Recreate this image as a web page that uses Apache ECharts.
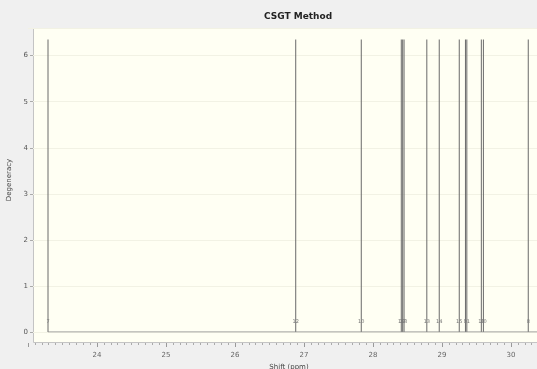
<!DOCTYPE html>
<html>
<head>
<meta charset="utf-8">
<script src="https://cdn.jsdelivr.net/npm/echarts@6/dist/echarts.min.js"></script>
<style>
  html, body { margin: 0; padding: 0; background: #f0f0f0; }
  #main { width: 537px; height: 369px; }
</style>
</head>
<body>
<div id="main"></div>
<script>
// shielding values (ppm) of each stick
var shifts = [23.29, 26.88, 27.83, 28.41, 28.43, 28.45, 28.78, 28.96, 29.25, 29.34, 29.36, 29.57, 29.6, 30.25];
var heights = [6.35, 6.35, 6.35, 6.35, 6.35, 6.35, 6.35, 6.35, 6.35, 6.35, 6.35, 6.35, 6.35, 6.35];
var atomLabels = ["7", "12", "10", "16", "17", "18", "13", "14", "15", "9", "11", "19", "20", "8"];
var xTicks = [23, 24, 25, 26, 27, 28, 29, 30, 31];
var yTicks = [0, 1, 2, 3, 4, 5, 6];

var labelLevel = 0.22;

var chartDom = document.getElementById("main");
var myChart = echarts.init(chartDom);

var sticks = shifts.map(function (x, i) { return [x, heights[i]]; });
var labelPts = shifts.map(function (x, i) { return [x, labelLevel, atomLabels[i]]; });
var baseline = [[shifts[0], 0], [xTicks[xTicks.length - 1], 0]];

var option = {
  backgroundColor: "#f0f0f0",
  animation: false,
  title: {
    text: "CSGT Method",
    left: 259,
    top: 7,
    textStyle: { fontSize: 9, fontWeight: "bold", color: "#222", fontFamily: "DejaVu Sans" },
  },
  graphic: [
    {
      type: "rect",
      z: -10,
      shape: { x: 33.5, y: 28.5, width: 520, height: 314 },
      style: { fill: "#fffff3", stroke: "#c4c4c4", lineWidth: 1 },
    },
  ],
  grid: [
    { left: 28, width: 552, top: 28, bottom: 26, outerBoundsMode: "none", containLabel: false },
    { left: 28, width: 552, top: 28, bottom: 37, outerBoundsMode: "none", containLabel: false },
  ],
  xAxis: [
    {
      gridIndex: 0,
      type: "value",
      min: xTicks[0],
      max: xTicks[xTicks.length - 1],
      interval: 1,
      name: "Shift (ppm)",
      nameLocation: "middle",
      nameGap: 18,
      nameTextStyle: { fontSize: 7, color: "#444", fontFamily: "DejaVu Sans", padding: [0, 30, 0, 0] },
      axisLine: { show: false },
      axisTick: { show: true, length: 4, lineStyle: { color: "#999" } },
      minorTick: { show: true, splitNumber: 10, length: 2, lineStyle: { color: "#aaa" } },
      axisLabel: { fontSize: 7, color: "#666", margin: 9, fontFamily: "DejaVu Sans", showMinLabel: false },
      splitLine: { show: false },
    },
    {
      gridIndex: 1,
      type: "value",
      min: xTicks[0],
      max: xTicks[xTicks.length - 1],
      interval: 1,
      show: false,
    },
  ],
  yAxis: [
    {
      gridIndex: 0,
      type: "value",
      show: false,
    },
    {
      gridIndex: 1,
      type: "value",
      min: yTicks[0],
      max: 6.6,
      interval: 1,
      offset: -5,
      name: "Degeneracy",
      nameLocation: "middle",
      nameGap: 16,
      nameRotate: 90,
      nameTextStyle: { fontSize: 7, color: "#444", fontFamily: "DejaVu Sans" },
      axisLine: { show: false },
      axisTick: { show: true, length: 3, lineStyle: { color: "#aaa" } },
      axisLabel: {
        fontSize: 7,
        color: "#555",
        margin: 5,
        fontFamily: "DejaVu Sans",
        showMaxLabel: false,
      },
      splitLine: { show: true, lineStyle: { color: "#f2f2e4", width: 1 } },
    },
  ],
  series: [
    {
      type: "line",
      xAxisIndex: 1,
      yAxisIndex: 1,
      data: baseline,
      symbol: "none",
      lineStyle: { color: "#8a8a8a", width: 1 },
      silent: true,
    },
    {
      type: "custom",
      xAxisIndex: 1,
      yAxisIndex: 1,
      data: sticks,
      renderItem: function (params, api) {
        var p0 = api.coord([api.value(0), 0]);
        var p1 = api.coord([api.value(0), api.value(1)]);
        return {
          type: "line",
          shape: { x1: p0[0], y1: p0[1], x2: p1[0], y2: p1[1] },
          style: { stroke: "#6a6a6a", lineWidth: 1 },
        };
      },
      z: 3,
    },
    {
      type: "custom",
      xAxisIndex: 1,
      yAxisIndex: 1,
      data: labelPts,
      renderItem: function (params, api) {
        var p = api.coord([api.value(0), api.value(1)]);
        return {
          type: "text",
          x: p[0],
          y: p[1],
          style: {
            text: labelPts[params.dataIndex][2],
            fontSize: 5,
            fill: "#777",
            align: "center",
            verticalAlign: "middle",
            fontFamily: "DejaVu Sans",
          },
        };
      },
      z: 4,
    },
  ],
};

myChart.setOption(option);
</script>
</body>
</html>
